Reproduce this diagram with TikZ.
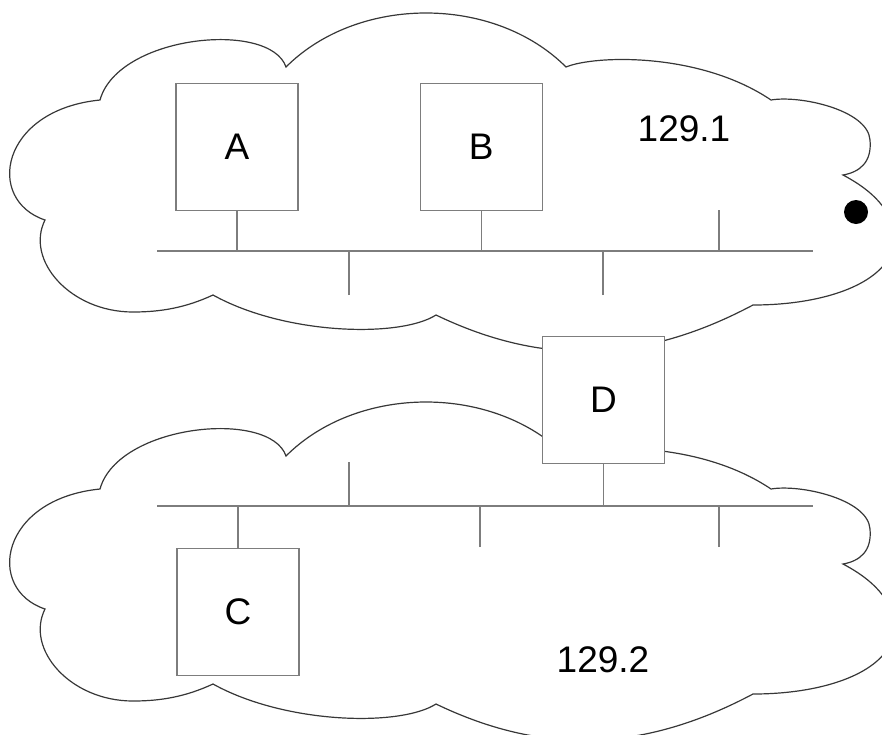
\documentclass[tikz,border=0pt]{standalone}
\usepackage{fontspec}
\setmainfont{Liberation Sans}
\usepackage{tikz}
\usetikzlibrary{positioning}
\definecolor{wire}{RGB}{125,125,125}
\definecolor{rim}{RGB}{55,55,55}

\begin{document}
\begin{tikzpicture}[
  x=0.5pt, y=-0.5pt,
  host/.style={rectangle, draw=wire, fill=white, line width=0.6pt,
               minimum width=61pt, minimum height=63.5pt, inner sep=0pt,
               font=\fontsize{18.5}{20}\selectfont},
  bus/.style={draw=wire, line width=0.6pt},
  rimline/.style={draw=rim, line width=0.6pt},
  lbl/.style={font=\fontsize{18.5}{20}\selectfont},
  netcloud/.pic={
    \path[rimline] (100,100) .. controls (118,35) and (270,20) .. (286,67)
      .. controls (358,-5) and (494,-5) .. (566,67)
      .. controls (595,55) and (700,52) .. (771,100)
      .. controls (800,95) and (868,110) .. (870,140)
      .. controls (872,162) and (860,172) .. (843,175)
      .. controls (862,185) and (893,205) .. (894,237)
      .. controls (895,280) and (830,305) .. (753,305)
      .. controls (640,365) and (540,365) .. (436,315)
      .. controls (400,338) and (285,335) .. (213,295)
      .. controls (185,308) and (160,312) .. (133,312)
      .. controls (70,312) and (25,260) .. (45,220)
      .. controls (-15,200) and (0,110) .. (100,100) -- cycle;
  }
]
\clip (0,0) rectangle (882,734);

% the two subnets
\pic at (0,0) {netcloud};
\pic at (0,389) {netcloud};

% subnet 129.1
\coordinate (bus1w) at (157,251);
\coordinate (bus1e) at (813,251);
\node[host] (A) at (237,147) {A};
\node[host, right=60.5pt of A] (B) {B};
\node[lbl] (net1) at (684,129) {129.1};
\node[circle, fill=black, minimum size=12pt, inner sep=0pt] (dot) at (856,212) {};
\coordinate (t1a) at (719,210);
\coordinate (t1b) at (349,295);
\coordinate (t1c) at (603,295);

% subnet 129.2, router D sits over both clouds
\coordinate (bus2w) at (157,506);
\coordinate (bus2e) at (813,506);
\node[host] (C) at (238,612) {C};
\node[host] (D) at (603.5,400) {D};
\node[lbl] (net2) at (603,660) {129.2};
\coordinate (t2a) at (349,462);
\coordinate (t2b) at (480,547);
\coordinate (t2c) at (719,547);

\draw[bus] (bus1w) -- (bus1e);
\draw[bus] (A.south) -- (A.south |- bus1w);
\draw[bus] (B.south) -- (B.south |- bus1w);
\draw[bus] (t1a) -- (t1a |- bus1w);
\draw[bus] (t1b) -- (t1b |- bus1w);
\draw[bus] (t1c) -- (t1c |- bus1w);

\draw[bus] (bus2w) -- (bus2e);
\draw[bus] (C.north) -- (C.north |- bus2w);
\draw[bus] (D.south) -- (D.south |- bus2w);
\draw[bus] (t2a) -- (t2a |- bus2w);
\draw[bus] (t2b) -- (t2b |- bus2w);
\draw[bus] (t2c) -- (t2c |- bus2w);
\end{tikzpicture}
\end{document}
